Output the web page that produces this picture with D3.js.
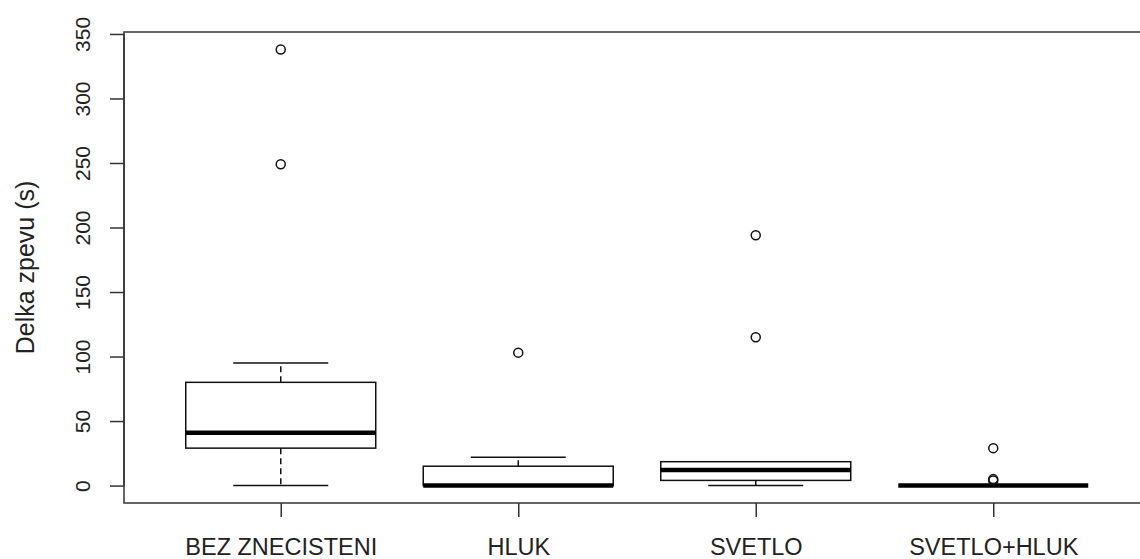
<!DOCTYPE html>
<html lang="en">
<head>
<meta charset="UTF-8">
<title>Delka zpevu boxplot</title>
<style>
  body { margin: 0; background: #fff; }
  svg text { font-family: "Liberation Sans", Arial, sans-serif; fill: #222; }
  .frame { fill: none; stroke: #333; stroke-width: 1.5px; }
  .box { fill: #fff; stroke: #111; stroke-width: 1.5px; }
  .med { stroke: #000; stroke-width: 4.5px; }
  .whisk { stroke: #111; stroke-width: 1.5px; stroke-dasharray: 6,4; }
  .staple { stroke: #111; stroke-width: 1.5px; }
  .out { fill: none; stroke: #111; stroke-width: 1.5px; }
</style>
</head>
<body>
<svg width="1140" height="559"></svg>
<script src="https://cdn.jsdelivr.net/npm/d3@7"></script>
<script>
  // data
  var categories = ["BEZ ZNECISTENI", "HLUK", "SVETLO", "SVETLO+HLUK"];
  var lowWhisker = [0, 0, 0, 0];
  var q1 = [29, 0, 4, 0];
  var median = [41, 0, 12, 0];
  var q3 = [80, 15, 18.5, 0];
  var highWhisker = [95, 22, 18.5, 0];
  var outliers = [[338, 249], [103], [194, 115], [29, 5, 4]];
  var yTicks = [0, 50, 100, 150, 200, 250, 300, 350];

  drawChart();

  function drawChart() {
    var svg = d3.select("svg");
    var pLeft = 124, pTop = 32, pBottom = 503, pRight = 1150;

    // R style: range extended by 4% on each side
    var x = d3.scaleLinear().domain([0.34, 4.66]).range([pLeft, pRight]);
    var y = d3.scaleLinear().domain([-13.52, 351.52]).range([pBottom, pTop]);

    var boxW = 0.8, stapleW = 0.4;
    var g = svg.append("g");

    categories.forEach(function (c, i) {
      var cx = x(i + 1);
      var bx0 = x(i + 1 - boxW / 2), bx1 = x(i + 1 + boxW / 2);
      var sx0 = x(i + 1 - stapleW / 2), sx1 = x(i + 1 + stapleW / 2);

      // whiskers
      g.append("line").attr("class", "whisk")
        .attr("x1", cx).attr("x2", cx).attr("y1", y(q3[i])).attr("y2", y(highWhisker[i]));
      g.append("line").attr("class", "whisk")
        .attr("x1", cx).attr("x2", cx).attr("y1", y(q1[i])).attr("y2", y(lowWhisker[i]));
      g.append("line").attr("class", "staple")
        .attr("x1", sx0).attr("x2", sx1).attr("y1", y(highWhisker[i])).attr("y2", y(highWhisker[i]));
      g.append("line").attr("class", "staple")
        .attr("x1", sx0).attr("x2", sx1).attr("y1", y(lowWhisker[i])).attr("y2", y(lowWhisker[i]));

      // box
      g.append("rect").attr("class", "box")
        .attr("x", bx0).attr("width", bx1 - bx0)
        .attr("y", y(q3[i])).attr("height", y(q1[i]) - y(q3[i]));
      g.append("line").attr("class", "med")
        .attr("x1", bx0).attr("x2", bx1).attr("y1", y(median[i])).attr("y2", y(median[i]));

      // outliers
      g.selectAll(null).data(outliers[i]).enter().append("circle")
        .attr("class", "out")
        .attr("cx", cx).attr("cy", function (d) { return y(d); })
        .attr("r", 4.5);
    });

    // frame
    svg.append("rect").attr("class", "frame")
      .attr("x", pLeft).attr("y", pTop).attr("width", pRight - pLeft).attr("height", pBottom - pTop);

    // y axis
    var yAxis = svg.append("g")
      .attr("transform", "translate(" + pLeft + ",0)")
      .call(d3.axisLeft(y).tickValues(yTicks).tickSize(14).tickFormat(d3.format("d")));
    yAxis.select(".domain")
      .attr("d", "M0," + y(350) + "V" + y(0)).attr("stroke", "#333").attr("stroke-width", 1.5);
    yAxis.selectAll(".tick line").attr("stroke", "#333").attr("stroke-width", 1.5);
    yAxis.selectAll(".tick text")
      .attr("transform", "rotate(-90)")
      .attr("x", 0).attr("y", -34).attr("dy", 0)
      .attr("text-anchor", "middle")
      .style("font-size", "21px").style("fill", "#222");

    // x axis
    var xAxis = svg.append("g")
      .attr("transform", "translate(0," + pBottom + ")")
      .call(d3.axisBottom(x).tickValues([1, 2, 3, 4]).tickSize(14)
        .tickFormat(function (d) { return categories[d - 1]; }));
    xAxis.select(".domain").remove();
    xAxis.selectAll(".tick line").attr("stroke", "#333").attr("stroke-width", 1.5);
    xAxis.selectAll(".tick text")
      .attr("y", 52).attr("dy", 0)
      .style("font-size", "23.5px").style("fill", "#222");

    // y title
    svg.append("text")
      .attr("transform", "translate(34," + (pTop + pBottom) / 2 + ") rotate(-90)")
      .attr("text-anchor", "middle")
      .style("font-size", "25px")
      .text("Delka zpevu (s)");
  }
</script>
</body>
</html>
